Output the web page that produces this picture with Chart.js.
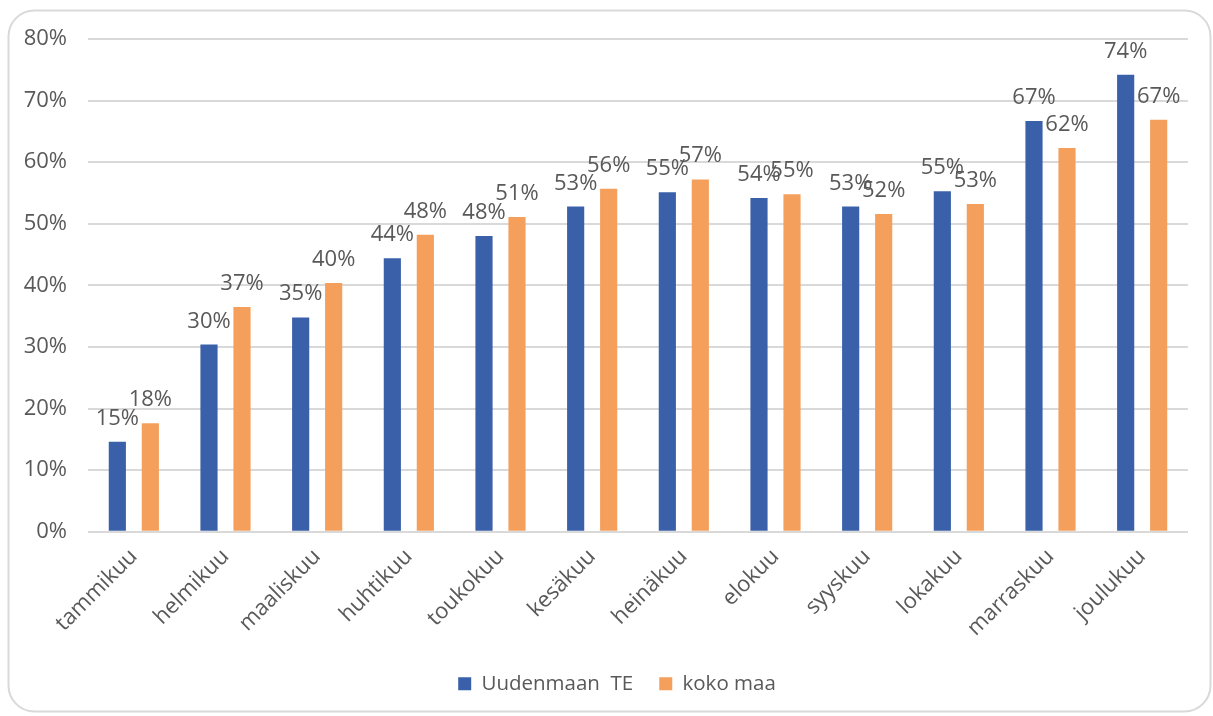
<!DOCTYPE html>
<html>
<head>
<meta charset="utf-8">
<script src="https://cdn.jsdelivr.net/npm/chart.js@4/dist/chart.umd.min.js"></script>
<style>
  html, body { margin: 0; padding: 0; background: #fff; }
  #wrap { width: 1213px; height: 716px; position: relative; }
</style>
</head>
<body>
<div id="wrap"><canvas id="chart" width="1213" height="716"></canvas></div>
<script>
// kuukaudet ja osuudet (%)
var months = ['tammikuu', 'helmikuu', 'maaliskuu', 'huhtikuu', 'toukokuu', 'kesäkuu',
  'heinäkuu', 'elokuu', 'syyskuu', 'lokakuu', 'marraskuu', 'joulukuu']
var uusimaa = [14.6, 30.4, 34.8, 44.4, 48.0, 52.8, 55.1, 54.2, 52.8, 55.3, 66.7, 74.2]
var kokoMaa = [17.6, 36.5, 40.4, 48.2, 51.1, 55.7, 57.2, 54.8, 51.6, 53.2, 62.3, 66.9]
var yTicks = [0, 10, 20, 30, 40, 50, 60, 70, 80]

var FONT = '"Open Sans", "Liberation Sans", sans-serif'
var GREY = '#595959'

// pyöristetty kehys koko kuvan ympärille
var frame = {
  id: 'frame',
  beforeDraw: function(chart) {
    var ctx = chart.ctx
    ctx.save()
    ctx.fillStyle = '#fff'
    ctx.fillRect(0, 0, chart.width, chart.height)
    ctx.beginPath()
    ctx.roundRect(8.5, 10.5, 1202, 701, 26)
    ctx.strokeStyle = '#d9d9d9'
    ctx.lineWidth = 2
    ctx.stroke()
    ctx.restore()
  }
}

// selite hieman oikealle
var legendShift = {
  id: 'legendShift',
  afterLayout: function(chart) {
    chart.legend.left += 11
    chart.legend.right += 11
  }
}

// arvot pylväiden yläpuolelle
var valueLabels = {
  id: 'valueLabels',
  afterDatasetsDraw: function(chart) {
    var ctx = chart.ctx
    ctx.save()
    ctx.font = '22px ' + FONT
    ctx.fillStyle = GREY
    ctx.textAlign = 'center'
    ctx.textBaseline = 'alphabetic'
    chart.data.datasets.forEach(function(ds, i) {
      chart.getDatasetMeta(i).data.forEach(function(bar, j) {
        ctx.fillText(Math.round(ds.data[j]) + '%', bar.x, bar.y - 17)
      })
    })
    ctx.restore()
  }
}

new Chart(document.getElementById('chart'), {
  type: 'bar',
  data: {
    labels: months,
    datasets: [
      { label: 'Uudenmaan  TE', data: uusimaa, backgroundColor: '#3a60aa' },
      { label: 'koko maa', data: kokoMaa, backgroundColor: '#f4a05c' }
    ]
  },
  options: {
    responsive: false,
    animation: false,
    categoryPercentage: 0.72,
    barPercentage: 0.52,
    layout: { padding: { top: 39, left: 24, right: 25, bottom: 12 } },
    plugins: {
      tooltip: { enabled: false },
      legend: {
        position: 'bottom',
        labels: {
          color: GREY,
          font: { family: FONT, size: 20.5 },
          boxWidth: 13,
          boxHeight: 13,
          padding: 26
        }
      }
    },
    scales: {
      x: {
        grid: { display: false },
        border: { display: false },
        ticks: {
          color: GREY,
          font: { family: FONT, size: 22 },
          minRotation: 45,
          maxRotation: 45,
          padding: 4
        },
        // kiertyneet nimet eivät saa siirtää piirtoaluetta
        afterFit: function(axis) {
          axis.paddingLeft = 0
          axis.paddingRight = 0
          axis.height += 2
        }
      },
      y: {
        min: 0,
        max: 80,
        afterBuildTicks: function(axis) {
          axis.ticks = yTicks.map(function(v) { return { value: v } })
        },
        afterFit: function(axis) { axis.width = 64 },
        grid: { color: '#d9d9d9', lineWidth: 2, drawTicks: false },
        border: { display: false },
        ticks: {
          color: GREY,
          font: { family: FONT, size: 22 },
          padding: 21,
          callback: function(v) { return v + '%' }
        }
      }
    }
  },
  plugins: [frame, legendShift, valueLabels]
})
</script>
</body>
</html>
